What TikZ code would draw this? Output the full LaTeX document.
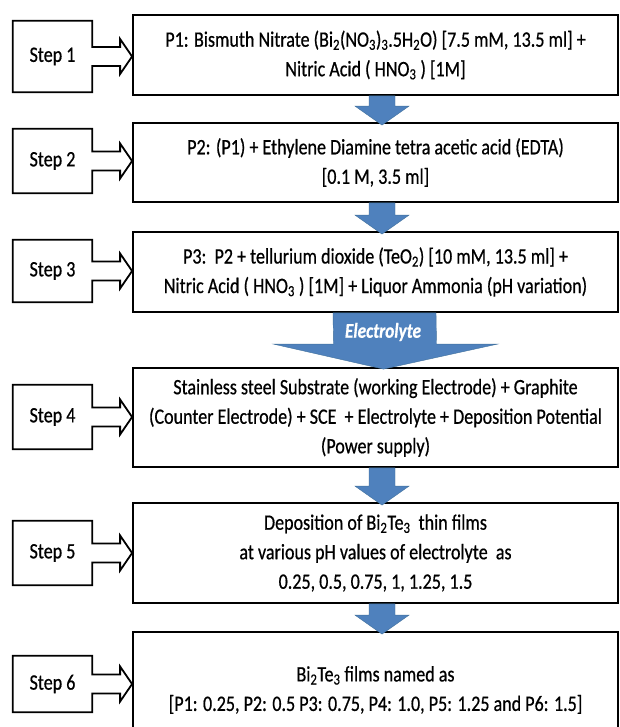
\documentclass[tikz,border=0pt]{standalone}
\usepackage{fontspec}
\setmainfont{Carlito}[FakeStretch=0.82,FakeBold=0.6]
\usetikzlibrary{calc}
\definecolor{arrowfill}{HTML}{4F81BD}
\definecolor{arrowedge}{HTML}{41719C}
\newcommand{\chsub}[1]{\textsubscript{#1}}
\tikzset{
  mainbox/.style={draw, line width=1.8pt, minimum width=485pt, align=center, inner sep=0pt,
    font=\fontsize{22}{29.5}\selectfont},
  stepnode/.style={minimum width=79pt, inner sep=0pt, font=\fontsize{22}{24}\selectfont},
  stepline/.style={draw, line width=1.8pt, line join=miter},
  arrowblue/.style={fill=arrowfill, draw=arrowedge, line width=0.4pt},
}
\newcommand{\stepcallout}[2]{%
  \draw[stepline] (#1.north west) -- (#1.north east) -- ($(#1.east)+(0,9.5pt)$)
    -- ($(#1.east -| #2.west)+(-12pt,9.5pt)$) -- ($(#1.east -| #2.west)+(-12pt,17.5pt)$)
    -- (#1.east -| #2.west)
    -- ($(#1.east -| #2.west)+(-12pt,-17.5pt)$) -- ($(#1.east -| #2.west)+(-12pt,-9.5pt)$)
    -- ($(#1.east)+(0,-9.5pt)$) -- (#1.south east) -- (#1.south west) -- cycle;}
\newcommand{\bluearrow}[2]{%
  \coordinate (#1top) at ($(#1.south)+(6.5pt,0)$);
  \coordinate (#1tip) at ($(#2.north)+(6.5pt,-3pt)$);
  \draw[arrowblue] ($(#1top)+(-13pt,0)$) -- ($(#1top)+(13pt,0)$) -- ($(#1tip)+(13pt,19pt)$)
    -- ($(#1tip)+(27pt,19pt)$) -- (#1tip) -- ($(#1tip)+(-27pt,19pt)$)
    -- ($(#1tip)+(-13pt,19pt)$) -- cycle;}
\begin{document}
\begin{tikzpicture}[x=1pt,y=-1pt]
\clip (0,0) rectangle (619,727);
\fill[white] (0,0) rectangle (619,727);

\node[mainbox, minimum height=80pt] (m1) at (375.5,55)
  {P1: Bismuth Nitrate (Bi\chsub{2}(NO\chsub{3})\chsub{3}.5H\chsub{2}O) [7.5 mM, 13.5 ml] +\\
   Nitric Acid ( HNO\chsub{3} ) [1M]};
\node[mainbox, minimum height=79pt] (m2) at (375.5,162.5)
  {P2: (P1) + Ethylene Diamine tetra acetic acid (EDTA)\\{}[0.1 M, 3.5 ml]};
\node[mainbox, minimum height=80pt] (m3) at (375.5,272)
  {P3:\ \ P2 + tellurium dioxide (TeO\chsub{2}) [10 mM, 13.5 ml] +\\
   Nitric Acid ( HNO\chsub{3} ) [1M] + Liquor Ammonia (pH variation)};
\node[mainbox, minimum height=99pt] (m4) at (375.5,417.5)
  {Stainless steel Substrate (working Electrode) + Graphite\\
   (Counter Electrode) + SCE\ \ + Electrolyte + Deposition Potential\\
   (Power supply)};
\node[mainbox, minimum height=100pt] (m5) at (375.5,553)
  {Deposition of Bi\chsub{2}Te\chsub{3}\ \ thin films\\
   at various pH values of electrolyte\ \ as\\
   0.25, 0.5, 0.75, 1, 1.25, 1.5};
\node[mainbox, minimum height=116pt] (m6) at (375.5,690)
  {Bi\chsub{2}Te\chsub{3} films named as\\{}[P1: 0.25, P2: 0.5 P3: 0.75, P4: 1.0, P5: 1.25 and P6: 1.5]};

\node[stepnode, minimum height=71pt] (s1) at (52.5,56.5) {Step 1};
\node[stepnode, minimum height=64pt] (s2) at (52.5,161) {Step 2};
\node[stepnode, minimum height=62pt] (s3) at (52.5,271) {Step 3};
\node[stepnode, minimum height=64pt] (s4) at (52.5,417) {Step 4};
\node[stepnode, minimum height=64pt] (s5) at (52.5,553) {Step 5};
\node[stepnode, minimum height=56pt] (s6) at (52.5,684) {Step 6};

\stepcallout{s1}{m1}
\stepcallout{s2}{m2}
\stepcallout{s3}{m3}
\stepcallout{s4}{m4}
\stepcallout{s5}{m5}
\stepcallout{s6}{m6}

\bluearrow{m1}{m2}
\bluearrow{m2}{m3}
\bluearrow{m4}{m5}
\bluearrow{m5}{m6}

% Electrolyte arrow
\coordinate (etop) at ($(m3.south)+(9pt,0)$);
\coordinate (etip) at ($(m4.north)+(8pt,-2pt)$);
\draw[arrowblue] ($(etop)+(-51.5pt,0)$) -- ($(etop)+(51.5pt,0)$) -- ($(etip)+(53pt,25pt)$)
  -- ($(etip)+(114pt,25pt)$) -- (etip) -- ($(etip)+(-110pt,25pt)$)
  -- ($(etip)+(-50pt,25pt)$) -- cycle;
\node[text=white, font=\fontsize{21}{22}\selectfont\bfseries\itshape] (elab) at (383,332) {Electrolyte};
\end{tikzpicture}
\end{document}
